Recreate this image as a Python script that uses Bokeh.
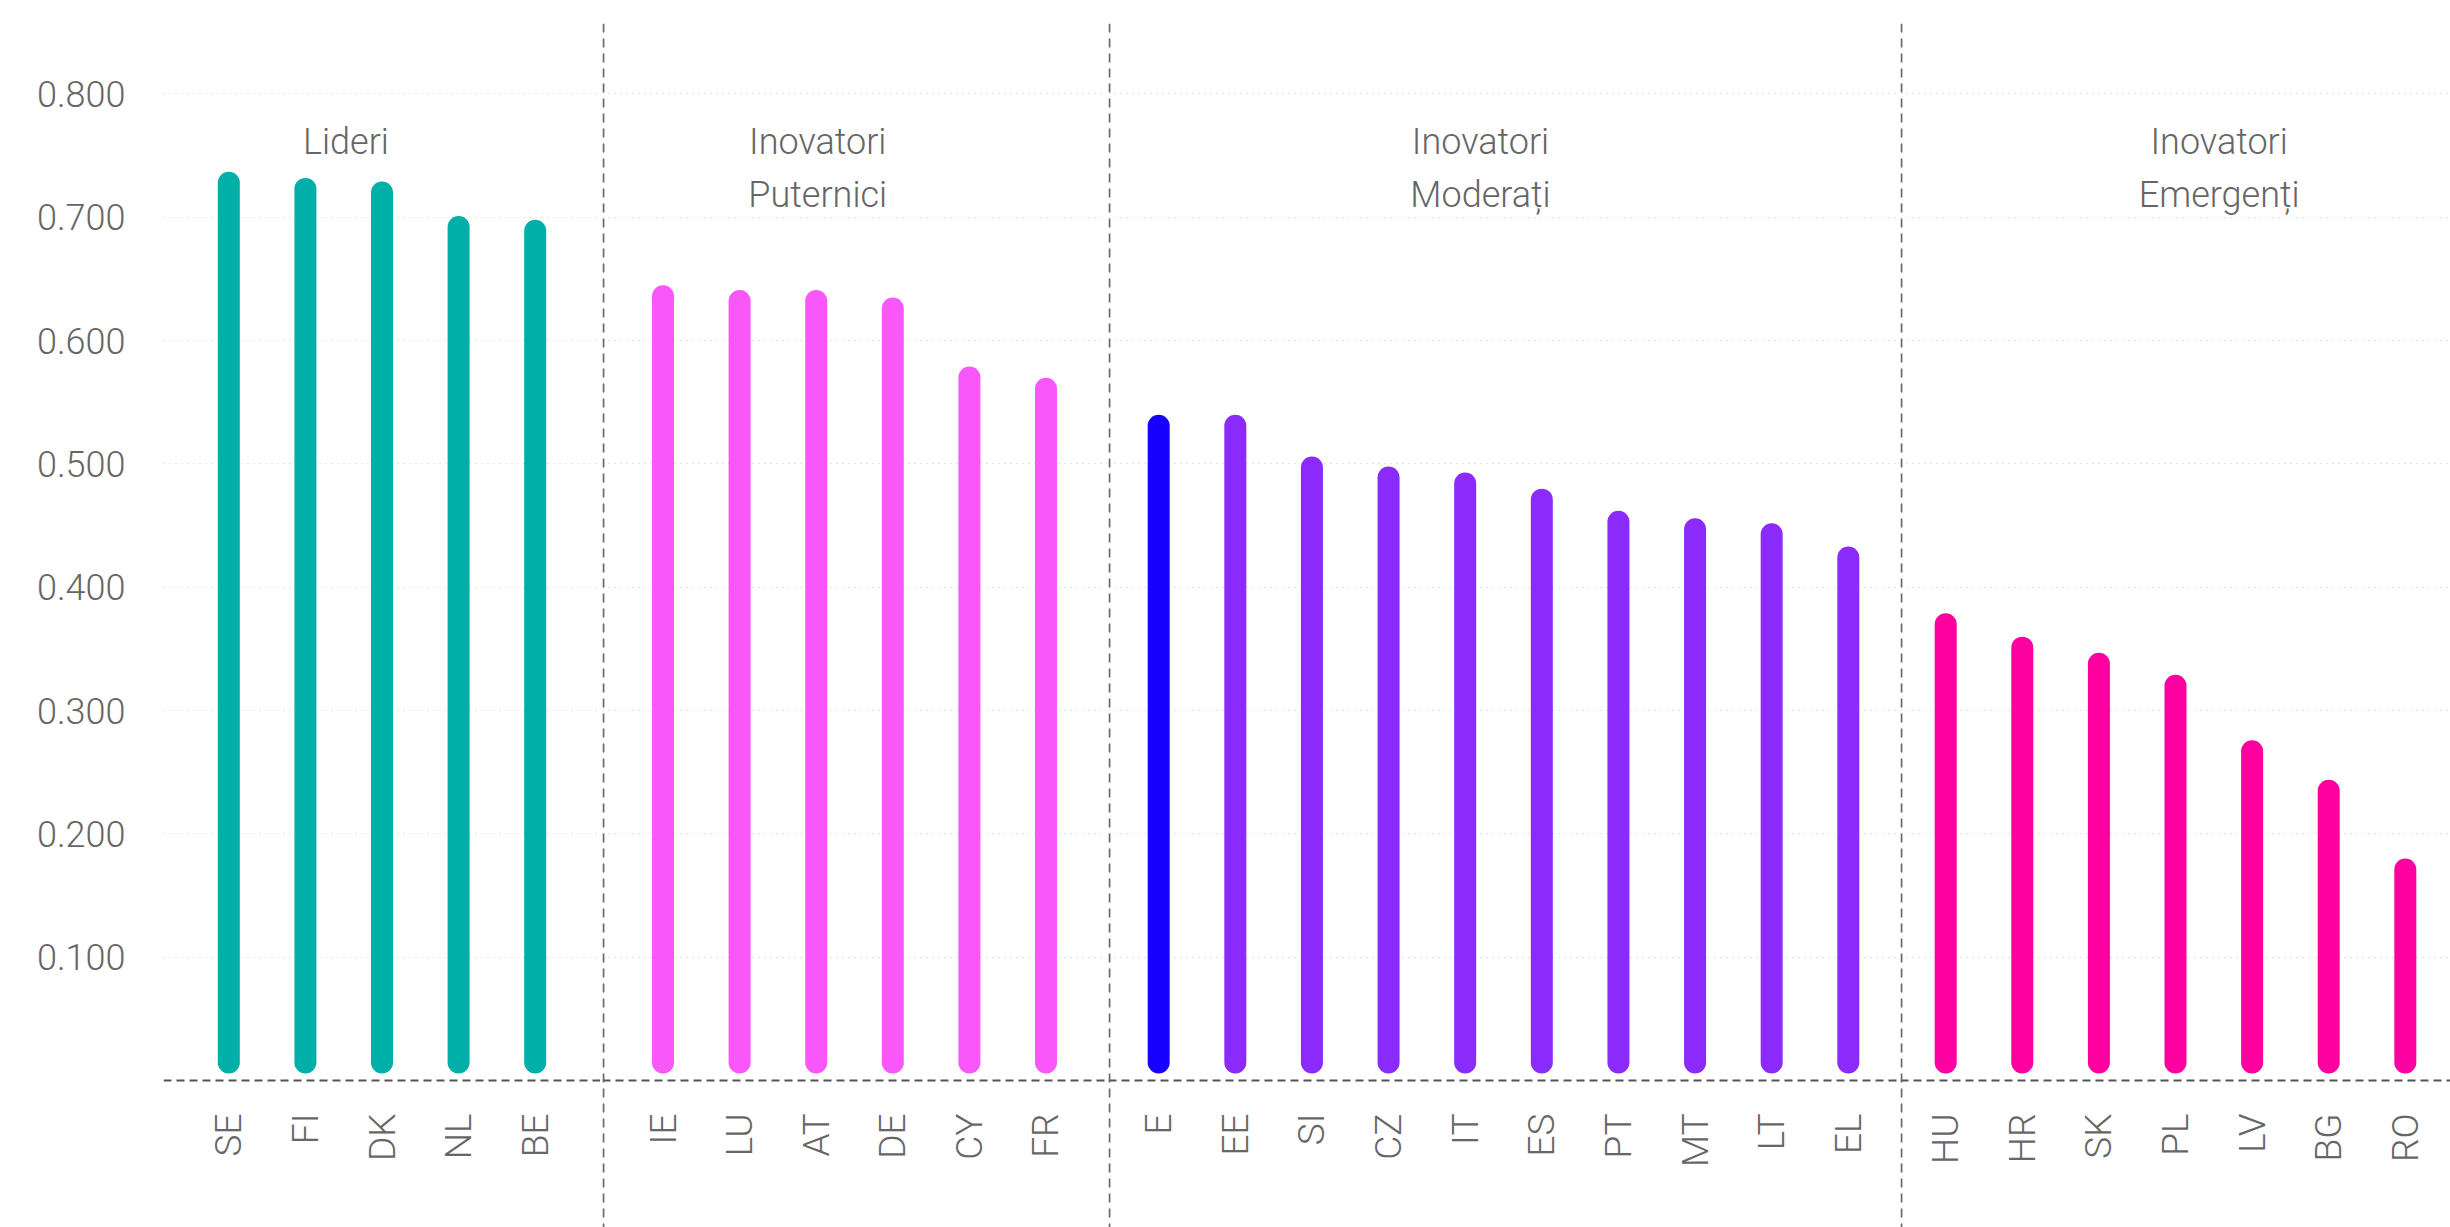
import math
from bokeh.plotting import figure
from bokeh.layouts import row
from bokeh.models import (FactorRange, Range1d, Span, Label, FixedTicker,
                          NumeralTickFormatter, ColumnDataSource)
from bokeh.core.properties import value
from bokeh.embed import file_html
from bokeh.resources import INLINE

# ---------------- data ----------------
group_titles = [["Lideri"], ["Inovatori", "Puternici"],
                ["Inovatori", "Moderați"], ["Inovatori", "Emergenți"]]

lideri_countries = ["SE", "FI", "DK", "NL", "BE"]
lideri_values = [0.728, 0.723, 0.720, 0.692, 0.689]

puternici_countries = ["IE", "LU", "AT", "DE", "CY", "FR"]
puternici_values = [0.636, 0.632, 0.632, 0.626, 0.570, 0.561]

moderati_countries = ["E", "EE", "SI", "CZ", "IT", "ES", "PT", "MT", "LT", "EL"]
moderati_values = [0.531, 0.531, 0.497, 0.489, 0.484, 0.471, 0.453, 0.447, 0.443, 0.424]

emergenti_countries = ["HU", "HR", "SK", "PL", "LV", "BG", "RO"]
emergenti_values = [0.370, 0.351, 0.338, 0.320, 0.267, 0.235, 0.171]

y_ticks = [0.1, 0.2, 0.3, 0.4, 0.5, 0.6, 0.7, 0.8]

# ---------------- styles ----------------
FONT = "Roboto Light, Roboto"
TEXT = "#666666"
group_colors = ["#00B0A8", "#FA57FA", "#8B2BFB", "#FF00A0"]
highlight = {"E": "#1800FF"}
BAR_BASE = 0.0146
BAR_W = 22

Y_START, Y_END = -0.1192, 0.8571

panels = [
    dict(countries=lideri_countries, values=lideri_values, width=600, left=163, pad=0.3525, lx=2.03),
    dict(countries=puternici_countries, values=puternici_values, width=506, left=2, pad=0.29, lx=2.52),
    dict(countries=moderati_countries, values=moderati_values, width=792, left=2, pad=0.155, lx=4.70),
    dict(countries=emergenti_countries, values=emergenti_values, width=552, left=2, pad=0.09, lx=4.07),
]

figs = []
for i, spec in enumerate(panels):
    first = i == 0
    p = figure(
        width=spec["width"], height=1227,
        x_range=FactorRange(factors=spec["countries"], range_padding=spec["pad"],
                            range_padding_units="absolute"),
        y_range=Range1d(Y_START, Y_END),
        x_axis_location=None,
        y_axis_location="left" if first else None,
        output_backend="svg", toolbar_location=None,
        min_border_left=spec["left"], min_border_right=0,
        min_border_top=23, min_border_bottom=0,
    )
    p.outline_line_color = None
    p.background_fill_color = "white"
    p.border_fill_color = "white"
    p.xgrid.visible = False
    p.ygrid.ticker = FixedTicker(ticks=y_ticks)
    p.ygrid.grid_line_color = "#c4c8d0"
    p.ygrid.grid_line_dash = "1 5"
    p.ygrid.grid_line_width = 1.2

    if first:
        ax = p.yaxis[0]
        ax.ticker = FixedTicker(ticks=y_ticks)
        ax.formatter = NumeralTickFormatter(format="0.000")
        ax.axis_line_color = None
        ax.major_tick_line_color = None
        ax.minor_tick_line_color = None
        ax.major_tick_out = 0
        ax.major_tick_in = 0
        ax.major_label_standoff = 38
        ax.major_label_text_font = FONT
        ax.major_label_text_font_size = "36px"
        ax.major_label_text_color = TEXT

    colors = [highlight.get(c, group_colors[i]) for c in spec["countries"]]
    src = ColumnDataSource(dict(
        x=spec["countries"], y=spec["values"],
        base=[BAR_BASE] * len(spec["countries"]), color=colors))

    # baseline
    p.add_layout(Span(location=0, dimension="width", line_color="#555555",
                      line_width=2, line_dash="8 5"))

    p.segment(x0="x", y0="base", x1="x", y1="y", source=src,
              line_color="color", line_width=BAR_W, line_cap="round")

    # country labels
    p.text(x="x", y=0, text="x", source=src, angle=math.pi / 2,
           text_align="right", text_baseline="middle", y_offset=33,
           text_font=value(FONT), text_font_size=value("37px"),
           text_color=TEXT)

    # group titles
    for j, line in enumerate(group_titles[i]):
        p.add_layout(Label(x=spec["lx"], y=0.7611 - j * 0.0430, text=line,
                           text_align="center", text_baseline="alphabetic",
                           text_font=FONT, text_font_size="36px",
                           text_color=TEXT))

    # separator at left edge of panels 2-4
    if not first:
        p.add_layout(Span(location=-spec["pad"] + 0.012, dimension="height",
                          line_color="#6a6a6a", line_width=2, line_dash="9 6"))

    figs.append(p)

layout = row(*figs, spacing=0)
open("out.html", "w").write(file_html(layout, INLINE))
